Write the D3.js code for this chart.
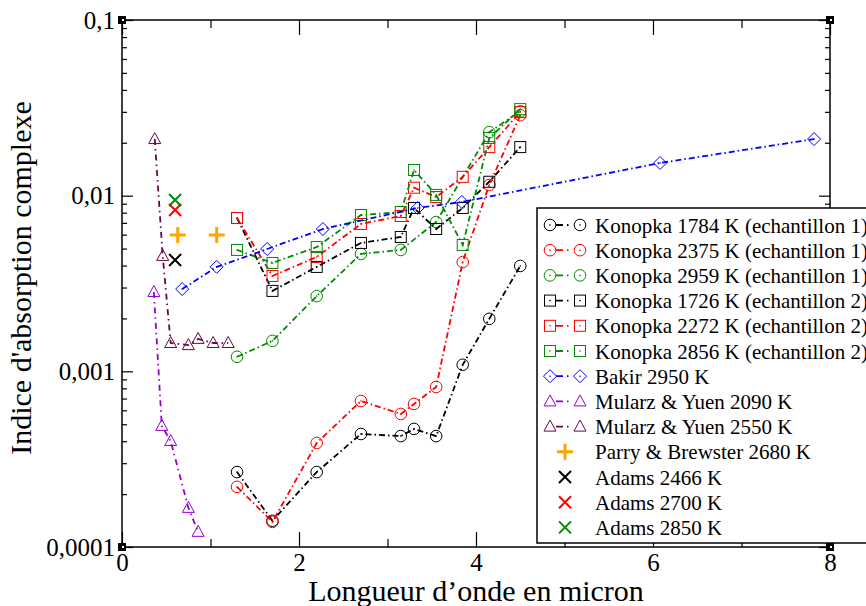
<!DOCTYPE html>
<html>
<head>
<meta charset="utf-8">
<script src="https://cdn.jsdelivr.net/npm/d3@7"></script>
<style>
  body { margin: 0; background: #fff; }
  svg { display: block; font-family: "Liberation Serif", "DejaVu Serif", serif; }
</style>
</head>
<body>
<svg id="chart" width="866" height="606"></svg>
<script>
// wavelengths (micron)
var konopkaX = [1.3, 1.7, 2.2, 2.7, 3.15, 3.3, 3.55, 3.85, 4.15, 4.5];
var konopka2959X = [1.3, 1.7, 2.2, 2.7, 3.15, 3.55, 4.15, 4.5];
var bakirX = [0.68, 1.07, 1.64, 2.27, 3.34, 3.84, 6.08, 7.82];
var mularz2090X = [0.36, 0.45, 0.55, 0.75, 0.86];
var mularz2550X = [0.37, 0.46, 0.55, 0.75, 0.86, 1.03, 1.2];
var parryX = [0.63, 1.07];
var adamsX = [0.6];

// absorption index values
var konopka1784 = [0.000267, 0.000141, 0.000267, 0.00044, 0.000428, 0.00047, 0.000428, 0.00109, 0.00199, 0.00398];
var konopka2375 = [0.00022, 0.000139, 0.000391, 0.000678, 0.000572, 0.000652, 0.000815, 0.00419, 0.0115, 0.0287];
var konopka2959 = [0.00121, 0.00149, 0.00268, 0.00466, 0.00491, 0.00708, 0.023, 0.0302];
var konopka1726 = [0.00746, 0.00287, 0.00393, 0.00538, 0.00582, 0.00851, 0.00646, 0.00851, 0.012, 0.0189];
var konopka2272 = [0.00746, 0.00349, 0.00448, 0.0069, 0.00766, 0.0111, 0.00983, 0.0128, 0.0189, 0.0299];
var konopka2856 = [0.00491, 0.00414, 0.0051, 0.00776, 0.00807, 0.014, 0.0101, 0.00524, 0.0213, 0.0311];
var bakir2950 = [0.00294, 0.00393, 0.00497, 0.00646, 0.00851, 0.00921, 0.01535, 0.021];
var mularz2090 = [0.00283, 0.000489, 0.000401, 0.000167, 0.000122];
var mularz2550 = [0.021, 0.00454, 0.00145, 0.00141, 0.00153, 0.00145, 0.00145];
var parry2680 = [0.00597, 0.00597];
var adams2466 = [0.0043];
var adams2700 = [0.00828];
var adams2850 = [0.00945];

var xTicks = [0, 2, 4, 6, 8];
var yTicks = [0.1, 0.01, 0.001, 0.0001];
var yTickLabels = ['0,1', '0,01', '0,001', '0,0001'];

var series = [
  {name: 'Konopka 1784 K (echantillon 1)', x: konopkaX, y: konopka1784, color: '#000000', sym: 'circle', dash: '6,3,1.5,3'},
  {name: 'Konopka 2375 K (echantillon 1)', x: konopkaX, y: konopka2375, color: '#ff0000', sym: 'circle', dash: '6,3,1.5,3'},
  {name: 'Konopka 2959 K (echantillon 1)', x: konopka2959X, y: konopka2959, color: '#008b00', sym: 'circle', dash: '6,3,1.5,3'},
  {name: 'Konopka 1726 K (echantillon 2)', x: konopkaX, y: konopka1726, color: '#000000', sym: 'square', dash: '6,3,1.5,3'},
  {name: 'Konopka 2272 K (echantillon 2)', x: konopkaX, y: konopka2272, color: '#ff0000', sym: 'square', dash: '6,3,1.5,3'},
  {name: 'Konopka 2856 K (echantillon 2)', x: konopkaX, y: konopka2856, color: '#008b00', sym: 'square', dash: '6,3,1.5,3'},
  {name: 'Bakir 2950 K', x: bakirX, y: bakir2950, color: '#0000ff', sym: 'diamond', dash: '6,3,1.5,3'},
  {name: 'Mularz & Yuen 2090 K', x: mularz2090X, y: mularz2090, color: '#9400d3', sym: 'triangle', dash: '6,4,1.5,4'},
  {name: 'Mularz & Yuen 2550 K', x: mularz2550X, y: mularz2550, color: '#670748', sym: 'triangle', dash: '6,4,1.5,4'},
  {name: 'Parry & Brewster 2680 K', x: parryX, y: parry2680, color: '#ffa500', sym: 'plus', dash: null},
  {name: 'Adams 2466 K', x: adamsX, y: adams2466, color: '#000000', sym: 'cross', dash: null},
  {name: 'Adams 2700 K', x: adamsX, y: adams2700, color: '#ff0000', sym: 'cross', dash: null},
  {name: 'Adams 2850 K', x: adamsX, y: adams2850, color: '#008b00', sym: 'cross', dash: null}
];

var svg = d3.select('#chart');
var plotL = 122, plotR = 830, plotT = 20, plotB = 547;

var x = d3.scaleLinear().domain([0, 8]).range([plotL, plotR]);
var y = d3.scaleLog().domain([0.0001, 0.1]).range([plotB, plotT]);

var minorY = [];
[0.0001, 0.001, 0.01].forEach(function(d) {
  for (var k = 2; k <= 9; k++) minorY.push(d * k);
});
var minorX = [1, 3, 5, 7];

// axes with inward ticks
function styleAxis(g) {
  g.select('.domain').remove();
  g.selectAll('line').attr('stroke', '#000').attr('stroke-width', 1.2);
  g.selectAll('text').attr('font-family', 'Liberation Serif').attr('font-size', 25).attr('fill', '#000');
}

svg.append('g').attr('transform', 'translate(0,' + plotB + ')')
  .call(d3.axisBottom(x).tickValues(xTicks).tickSize(-15).tickPadding(6).tickFormat(d3.format('d')))
  .call(styleAxis);
svg.append('g').attr('transform', 'translate(0,' + plotB + ')')
  .call(d3.axisBottom(x).tickValues(minorX).tickSize(-8).tickFormat(''))
  .call(styleAxis);
svg.append('g').attr('transform', 'translate(0,' + plotT + ')')
  .call(d3.axisTop(x).tickValues(xTicks).tickSize(-15).tickFormat(''))
  .call(styleAxis);
svg.append('g').attr('transform', 'translate(0,' + plotT + ')')
  .call(d3.axisTop(x).tickValues(minorX).tickSize(-8).tickFormat(''))
  .call(styleAxis);

svg.append('g').attr('transform', 'translate(' + plotL + ',0)')
  .call(d3.axisLeft(y).tickValues(yTicks).tickSize(-11).tickPadding(7)
    .tickFormat(function(d, i) { return yTickLabels[i]; }))
  .call(styleAxis);
svg.append('g').attr('transform', 'translate(' + plotL + ',0)')
  .call(d3.axisLeft(y).tickValues(minorY).tickSize(-5).tickFormat(''))
  .call(styleAxis);
svg.append('g').attr('transform', 'translate(' + plotR + ',0)')
  .call(d3.axisRight(y).tickValues(yTicks).tickSize(-11).tickFormat(''))
  .call(styleAxis);
svg.append('g').attr('transform', 'translate(' + plotR + ',0)')
  .call(d3.axisRight(y).tickValues(minorY).tickSize(-5).tickFormat(''))
  .call(styleAxis);

svg.append('rect').attr('x', plotL).attr('y', plotT)
  .attr('width', plotR - plotL).attr('height', plotB - plotT)
  .attr('fill', 'none').attr('stroke', '#000').attr('stroke-width', 1.5);

// corner markers
[[plotL, plotT], [plotR, plotT], [plotL, plotB], [plotR, plotB]].forEach(function(c) {
  svg.append('rect').attr('x', c[0] - 4).attr('y', c[1] - 4).attr('width', 8).attr('height', 8).attr('fill', '#000');
  svg.append('rect').attr('x', c[0]).attr('y', c[1] - 1).attr('width', 2).attr('height', 2).attr('fill', '#fff');
});

// markers
function drawSymbol(g, sym, cx, cy, color) {
  var s = g.append('g').attr('transform', 'translate(' + cx + ',' + cy + ')')
    .attr('fill', 'none').attr('stroke', color).attr('stroke-width', 1);
  if (sym === 'circle') {
    s.append('circle').attr('r', 5.8);
  } else if (sym === 'square') {
    s.append('rect').attr('x', -5.5).attr('y', -5.5).attr('width', 11).attr('height', 11);
  } else if (sym === 'diamond') {
    s.append('path').attr('d', 'M0,-6.5L6.5,0L0,6.5L-6.5,0Z');
  } else if (sym === 'triangle') {
    s.append('path').attr('d', 'M0,-6.5L6,4.5L-6,4.5Z');
  } else if (sym === 'plus') {
    s.attr('stroke-width', 3);
    s.append('path').attr('d', 'M-8,0L8,0M0,-8L0,8');
  } else if (sym === 'cross') {
    s.attr('stroke-width', 2);
    s.append('path').attr('d', 'M-6,-6L6,6M-6,6L6,-6');
  }
  if (sym === 'circle' || sym === 'square' || sym === 'diamond') {
    s.append('circle').attr('r', 0.8).attr('fill', color).attr('stroke', 'none');
  }
}

var line = d3.line().x(function(d) { return x(d[0]); }).y(function(d) { return y(d[1]); });
var plot = svg.append('g');

series.forEach(function(s) {
  var pts = s.x.map(function(v, i) { return [v, s.y[i]]; });
  if (s.dash) {
    plot.append('path').datum(pts).attr('d', line)
      .attr('fill', 'none').attr('stroke', s.color).attr('stroke-width', 1.8)
      .attr('stroke-dasharray', s.dash);
  }
  pts.forEach(function(p) { drawSymbol(plot, s.sym, x(p[0]), y(p[1]), s.color); });
});

// legend
var legend = svg.append('g');
legend.append('rect').attr('x', 537).attr('y', 208).attr('width', 340).attr('height', 335)
  .attr('fill', '#fff').attr('stroke', '#000').attr('stroke-width', 1.5);

series.forEach(function(s, i) {
  var ly = 225 + i * 25.2;
  if (s.dash) {
    legend.append('line').attr('x1', 550).attr('x2', 580).attr('y1', ly).attr('y2', ly)
      .attr('stroke', s.color).attr('stroke-width', 1.8).attr('stroke-dasharray', '0,6,7,4,1.5,20');
    drawSymbol(legend, s.sym, 550, ly, s.color);
    drawSymbol(legend, s.sym, 580, ly, s.color);
  } else {
    drawSymbol(legend, s.sym, 565, ly, s.color);
  }
  legend.append('text').attr('x', 595).attr('y', ly + 7.5)
    .attr('font-size', 21).attr('fill', '#000').text(s.name);
});

// axis titles
svg.append('text').attr('x', (plotL + plotR) / 2).attr('y', 601)
  .attr('text-anchor', 'middle').attr('font-size', 30).attr('fill', '#000')
  .text('Longueur d\u2019onde en micron');
svg.append('text').attr('transform', 'translate(31,278) rotate(-90)')
  .attr('text-anchor', 'middle').attr('font-size', 30).attr('fill', '#000')
  .text('Indice d\'absorption complexe');
</script>
</body>
</html>
